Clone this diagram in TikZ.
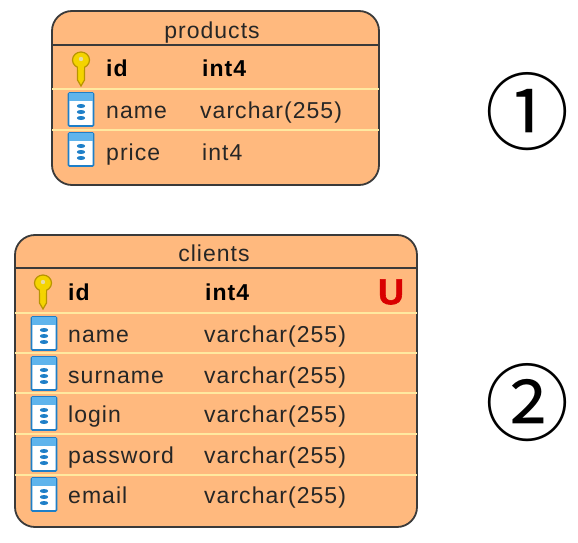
\documentclass[tikz,border=0pt]{standalone}
\usepackage{fontspec}
\setmainfont{Liberation Sans}[LetterSpace=4.5]
\newfontfamily\symfont{Noto Sans CJK SC}
\newfontfamily\ufont{Liberation Sans}[BoldFeatures={FakeBold=1.6}]
\definecolor{tbl}{HTML}{FFB97E}
\definecolor{sep}{HTML}{FFE9A0}
\definecolor{edge}{HTML}{3A3A3A}
\definecolor{keyfill}{HTML}{F4D400}
\definecolor{keyedge}{HTML}{B89400}
\definecolor{colblue}{HTML}{1E7FC8}
\definecolor{colhead}{HTML}{5FB4EC}
\tikzset{
  x=1pt,y=-1pt,
  tablebox/.style={draw=edge,line width=1.8pt,fill=tbl,rounded corners=20pt,outer sep=0pt},
  headrule/.style={draw=edge,line width=1.6pt},
  rowrule/.style={draw=sep,line width=1.8pt},
  title/.style={font=\fontsize{23}{23}\selectfont,text=black!85,anchor=base,inner sep=0pt},
  cell/.style={font=\fontsize{23}{23}\selectfont,text=black!85,anchor=base west,inner sep=0pt},
  keycell/.style={font=\bfseries\fontsize{23}{23}\selectfont,text=black,anchor=base west,inner sep=0pt},
  numeral/.style={font=\symfont\fontsize{84}{84}\selectfont,text=black,anchor=center,inner sep=0pt},
  uniq/.style={font=\ufont\bfseries\fontsize{36}{36}\selectfont,text=red!85!black,anchor=center,inner sep=0pt},
}
\newcommand{\keyicon}[2]{%
  \begin{scope}[shift={(#1,#2)}]
    \path[fill=keyfill,draw=keyedge,line width=1.2pt] (-3.5,0) -- (-3.5,18) -- (0,24) -- (3.5,18) -- (3.5,0) -- cycle;
    \path[fill=keyfill,draw=keyedge,line width=1.2pt] (0,-2) ellipse [x radius=8.5,y radius=8];
    \path[fill=white!65!keyedge] (0,-3) circle [radius=2.2];
    \path[fill=keyfill] (-2.7,3) rectangle (2.7,8);
  \end{scope}}
\newcommand{\colicon}[2]{%
  \begin{scope}[shift={(#1,#2)}]
    \path[fill=white,draw=colblue,line width=1.6pt,rounded corners=1pt] (-12.5,-16) rectangle (12.5,17);
    \path[fill=colhead] (-12,-16) rectangle (12,-8);
    \foreach \yy in {-3,3,9}{\path[fill=colblue] (0,\yy) ellipse [x radius=4.2,y radius=2];}
  \end{scope}}
\begin{document}
\begin{tikzpicture}
\useasboundingbox (0,0) rectangle (578,543);
% products
\node[tablebox,minimum width=327pt,minimum height=174pt,anchor=north west] (products) at (52,11) {};
\draw[rowrule] (products.west |- 0,89) -- (products.east |- 0,89);
\draw[rowrule] (products.west |- 0,130) -- (products.east |- 0,130);
\draw[headrule] (products.west |- 0,45) -- (products.east |- 0,45);
\node[title] (ptitle) at (212,38) {products};
\keyicon{81}{62}
\node[keycell] (pid) at (106,77) {id};
\node[keycell] (pidt) at (202,77) {int4};
\colicon{81}{109}
\node[cell] (pname) at (106,118) {name};
\node[cell] (pnamet) at (200,118) {varchar(255)};
\colicon{81}{149}
\node[cell] (pprice) at (106,160) {price};
\node[cell] (ppricet) at (202,160) {int4};
% clients
\node[tablebox,minimum width=402pt,minimum height=292pt,anchor=north west] (clients) at (15,235) {};
\foreach \yy in {313,353,393,434,475}{\draw[rowrule] (clients.west |- 0,\yy) -- (clients.east |- 0,\yy);}
\draw[headrule] (clients.west |- 0,268) -- (clients.east |- 0,268);
\node[title] (ctitle) at (214,261) {clients};
\keyicon{43}{285}
\node[keycell] (cid) at (68,300) {id};
\node[keycell] (cidt) at (205,300) {int4};
\node[uniq] (cu) at (391,292) {U};
\colicon{44}{333}
\node[cell] (c1) at (68,342) {name};
\node[cell] (c1t) at (204,342) {varchar(255)};
\colicon{44}{373}
\node[cell] (c2) at (68,383) {surname};
\node[cell] (c2t) at (204,383) {varchar(255)};
\colicon{44}{413}
\node[cell] (c3) at (68,422) {login};
\node[cell] (c3t) at (204,422) {varchar(255)};
\colicon{44}{454}
\node[cell] (c4) at (68,463) {password};
\node[cell] (c4t) at (204,463) {varchar(255)};
\colicon{44}{494}
\node[cell] (c5) at (68,503) {email};
\node[cell] (c5t) at (204,503) {varchar(255)};
% numerals
\node[numeral] (n1) at (527,112) {①};
\node[numeral] (n2) at (527,403) {②};
\end{tikzpicture}
\end{document}
